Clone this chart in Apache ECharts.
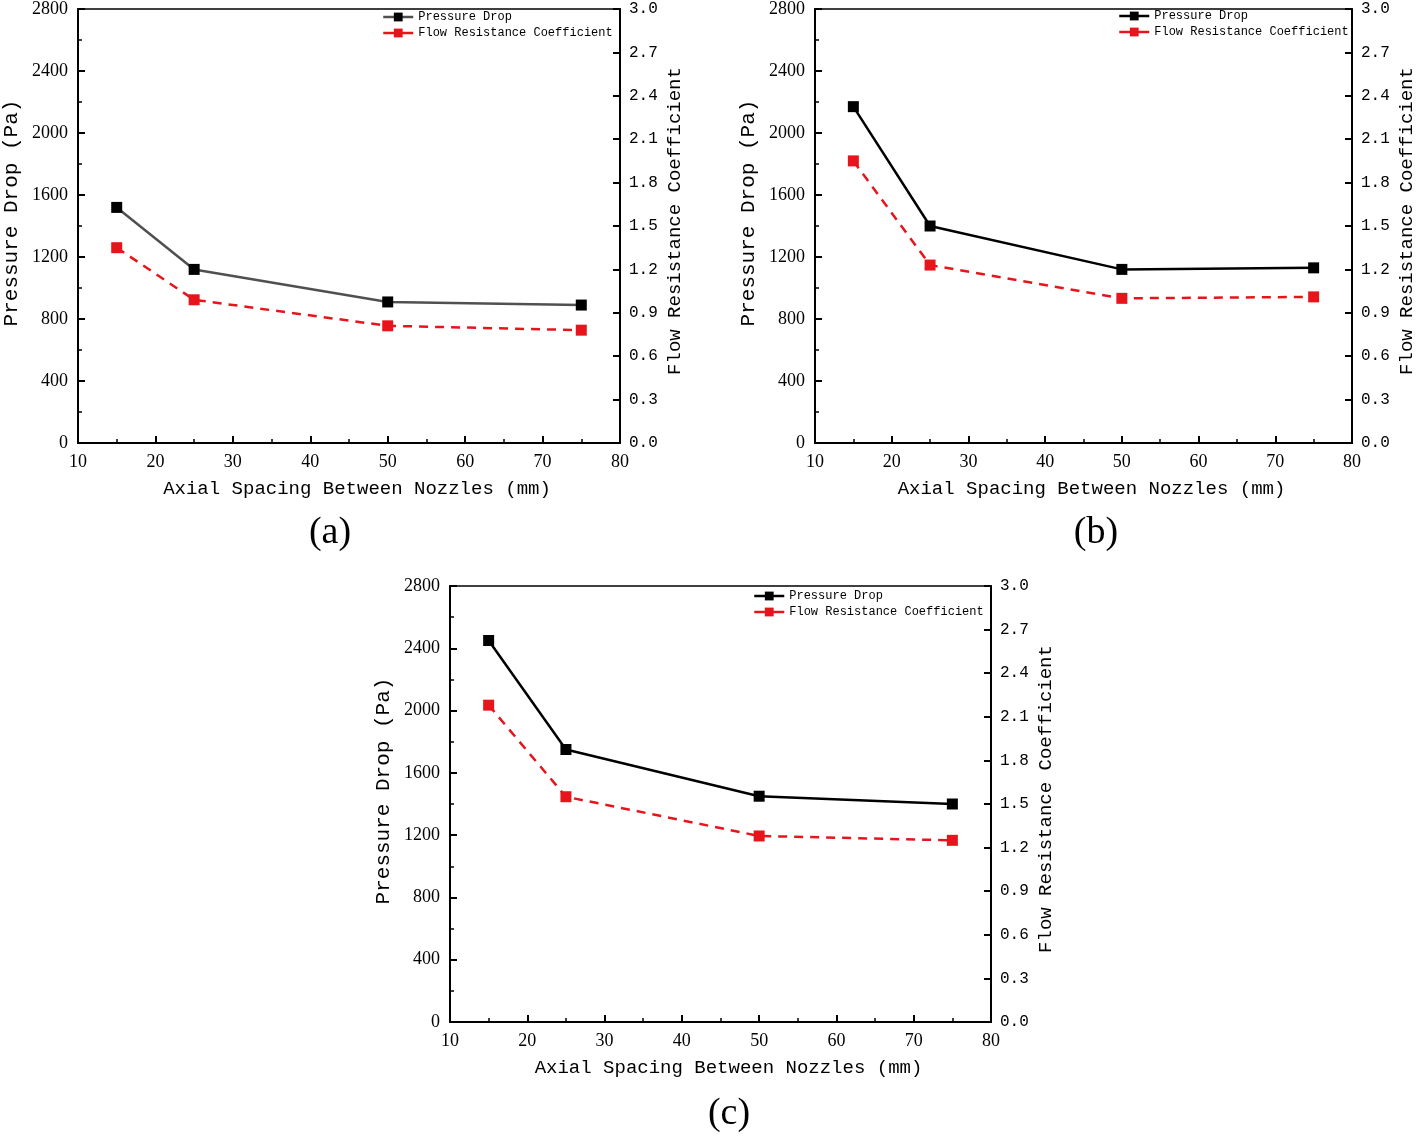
<!DOCTYPE html>
<html><head><meta charset="utf-8">
<script src="https://cdn.jsdelivr.net/npm/echarts@6/dist/echarts.min.js"></script>
<style>html,body{margin:0;padding:0;background:#fff}#c{width:1417px;height:1139px}</style>
</head><body><div id="c"></div>
<script>
const spacing = [15, 25, 50, 75];
const pressureA = [1520, 1120, 910, 890];
const flowA = [1.35, 0.99, 0.81, 0.78];
const pressureB = [2170, 1400, 1120, 1130];
const flowB = [1.95, 1.23, 1.00, 1.01];
const pressureC = [2450, 1750, 1450, 1400];
const flowC = [2.18, 1.55, 1.28, 1.25];
const captions = ['(a)', '(b)', '(c)'];
const xTitle = 'Axial Spacing Between Nozzles (mm)';
const yLeftTitle = 'Pressure Drop (Pa)';
const yRightTitle = 'Flow Resistance Coefficient';
const legendNames = ['Pressure Drop', 'Flow Resistance Coefficient'];

const panels = [
  {grid:{left:78, top:7, width:542, height:436}, p:pressureA, f:flowA, pc:'#505050', cap:[325,509]},
  {grid:{left:815, top:6, width:541, height:437}, p:pressureB, f:flowB, pc:'#000000', cap:[1091,509]},
  {grid:{left:450, top:586, width:541, height:436}, p:pressureC, f:flowC, pc:'#000000', cap:[724,1090]}
];
const RED = '#e8141c';
const mono = 'Liberation Mono';
const serif = 'Liberation Serif';

const option = {backgroundColor:'#fff', animation:false, grid:[], xAxis:[], yAxis:[], series:[], legend:[], title:[]};
panels.forEach((pn, i) => {
  option.grid.push(Object.assign({show:true, borderColor:'#000', borderWidth:1.5, backgroundColor:'transparent'}, pn.grid));
  option.xAxis.push({
    type:'value', gridIndex:i, min:10, max:80, interval:10,
    name:xTitle, nameLocation:'middle', nameGap:36,
    nameTextStyle:{fontFamily:mono, fontSize:19, color:'#000', padding:[0,0,0,16]},
    axisLine:{show:true, lineStyle:{color:'#000', width:2}},
    axisTick:{show:true, inside:true, length:7, lineStyle:{color:'#000', width:2}},
    minorTick:{show:true, splitNumber:2, length:4, lineStyle:{color:'#000', width:1.5}},
    axisLabel:{fontFamily:serif, fontSize:18, color:'#000', margin:10},
    splitLine:{show:false}
  });
  option.yAxis.push({
    type:'value', gridIndex:i, position:'left', min:0, max:2800, interval:400,
    name:yLeftTitle, nameLocation:'middle', nameGap:56, nameRotate:90,
    nameTextStyle:{fontFamily:mono, fontSize:21, color:'#000', padding:[0,0,0,26]},
    axisLine:{show:true, lineStyle:{color:'#000', width:2}},
    axisTick:{show:true, inside:true, length:7, lineStyle:{color:'#000', width:2}},
    minorTick:{show:true, splitNumber:2, length:4, lineStyle:{color:'#000', width:1.5}},
    axisLabel:{fontFamily:serif, fontSize:18, color:'#000', margin:10, formatter:v => String(v)},
    splitLine:{show:false}
  });
  option.yAxis.push({
    type:'value', gridIndex:i, position:'right', min:0, max:3, interval:0.3,
    name:yRightTitle, nameLocation:'middle', nameGap:45, nameRotate:90,
    nameTextStyle:{fontFamily:mono, fontSize:19, color:'#000', padding:[0,0,0,10]},
    axisLine:{show:true, lineStyle:{color:'#000', width:2}},
    axisTick:{show:true, inside:true, length:7, lineStyle:{color:'#000', width:2}},
    axisLabel:{fontFamily:mono, fontSize:16, color:'#000', margin:9, formatter:v => v.toFixed(1)},
    splitLine:{show:false}
  });
  option.series.push({
    name:legendNames[0], type:'line', xAxisIndex:i, yAxisIndex:2*i,
    data:spacing.map((x,k)=>[x, pn.p[k]]),
    symbol:'rect', symbolSize:11,
    itemStyle:{color:'#000'}, lineStyle:{color:pn.pc, width:2.5}
  });
  option.series.push({
    name:legendNames[1], type:'line', xAxisIndex:i, yAxisIndex:2*i+1,
    data:spacing.map((x,k)=>[x, pn.f[k]]),
    symbol:'rect', symbolSize:11,
    itemStyle:{color:RED}, lineStyle:{color:RED, width:2.5, type:[9,7]}
  });
  const g = pn.grid;
  option.legend.push({
    orient:'vertical', left:g.left + g.width - 243, top:g.top - 1,
    itemWidth:30, itemHeight:11, itemGap:4,
    textStyle:{fontFamily:mono, fontSize:12, color:'#000'},
    data:[
      {name:legendNames[0], itemStyle:{color:'#000'}, lineStyle:{color:pn.pc, type:'solid', width:2.5}},
      {name:legendNames[1], itemStyle:{color:RED}, lineStyle:{color:RED, type:'solid', width:2.5}}
    ]
  });
  option.title.push({
    text:captions[i], left:pn.cap[0], top:pn.cap[1], textAlign:'center',
    textStyle:{fontFamily:serif, fontSize:38, fontWeight:'normal', color:'#000'}
  });
});
const chart = echarts.init(document.getElementById('c'), null, {renderer:'canvas'});
chart.setOption(option);
</script></body></html>
